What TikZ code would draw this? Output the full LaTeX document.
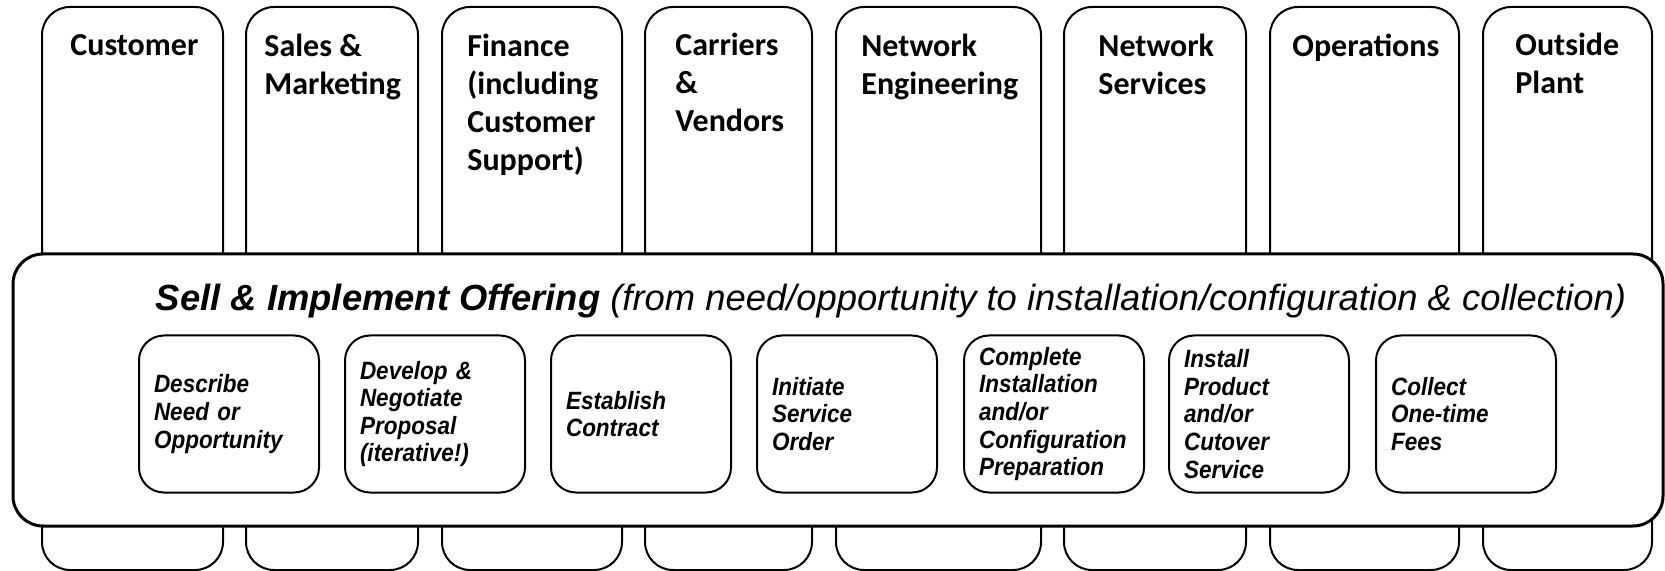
\documentclass[tikz,border=0pt]{standalone}
\usepackage{fontspec}
\setmainfont{Liberation Sans}
\newfontfamily\calibri{Carlito}
\newfontfamily\narrowsans[FakeStretch=0.9]{Liberation Sans}

\begin{document}
\begin{tikzpicture}[x=0.5pt,y={(0,-0.5pt)},
    lane/.style={draw,line width=1pt,rounded corners=14pt},
    lanelabel/.style={anchor=north west,inner sep=0pt,align=left,font=\calibri\bfseries\fontsize{16}{19}\selectfont},
    frame/.style={draw,line width=1.5pt,rounded corners=15pt,fill=white},
    stage/.style={draw,line width=1pt,rounded corners=12.5pt,minimum width=90pt,minimum height=78.5pt,
        text width=75pt,inner xsep=7.5pt,align=left,font=\narrowsans\fontsize{12.5}{13.8}\selectfont\bfseries\itshape}]
    \useasboundingbox (0,0) rectangle (1665,571);

    % swim lanes
    \draw[lane] (42,7) rectangle (223,570);
    \draw[lane] (246,7) rectangle (418,570);
    \draw[lane] (442,7) rectangle (622,570);
    \draw[lane] (645,7) rectangle (812,570);
    \draw[lane] (836,7) rectangle (1041,570);
    \draw[lane] (1064,7) rectangle (1246,570);
    \draw[lane] (1270,7) rectangle (1459,570);
    \draw[lane] (1483,7) rectangle (1652,570);

    % lane titles
    \node[lanelabel] (customer) at (70,34) {Customer};
    \node[lanelabel] (sales) at (264,34) {Sales \&\\Marketing};
    \node[lanelabel] (finance) at (467,34) {Finance\\(including\\Customer\\Support)};
    \node[lanelabel] (carriers) at (675,33) {Carriers\\\&\\Vendors};
    \node[lanelabel] (neteng) at (861,34) {Network\\Engineering};
    \node[lanelabel] (netsvc) at (1098,34) {Network\\Services};
    \node[lanelabel] (operations) at (1292,34) {Operations};
    \node[lanelabel] (outside) at (1515,33) {Outside\\Plant};

    % process band across the lanes
    \draw[frame] (13,254) rectangle (1663,526);
    \node[anchor=base,inner sep=0pt,font=\fontsize{18.2}{22}\selectfont\itshape] (title) at (891,311)
        {\textbf{Sell \& Implement Offering} (from need/opportunity to installation/configuration \& collection)};

    % process stages
    \node[stage] (describe) at (229,414) {Describe\\Need or\\Opportunity};
    \node[stage] (develop) at (435,414) {Develop \&\\Negotiate\\Proposal\\(iterative!)};
    \node[stage] (contract) at (641,414) {Establish\\Contract};
    \node[stage] (order) at (847,414) {Initiate\\Service\\Order};
    \node[stage] (prepare) at (1054,414) {Complete\\Installation\\and/or\\Configuration\\Preparation};
    \node[stage] (install) at (1259,414) {Install\\Product\\and/or\\Cutover\\Service};
    \node[stage] (collect) at (1466,414) {Collect\\One-time\\Fees};
\end{tikzpicture}
\end{document}
